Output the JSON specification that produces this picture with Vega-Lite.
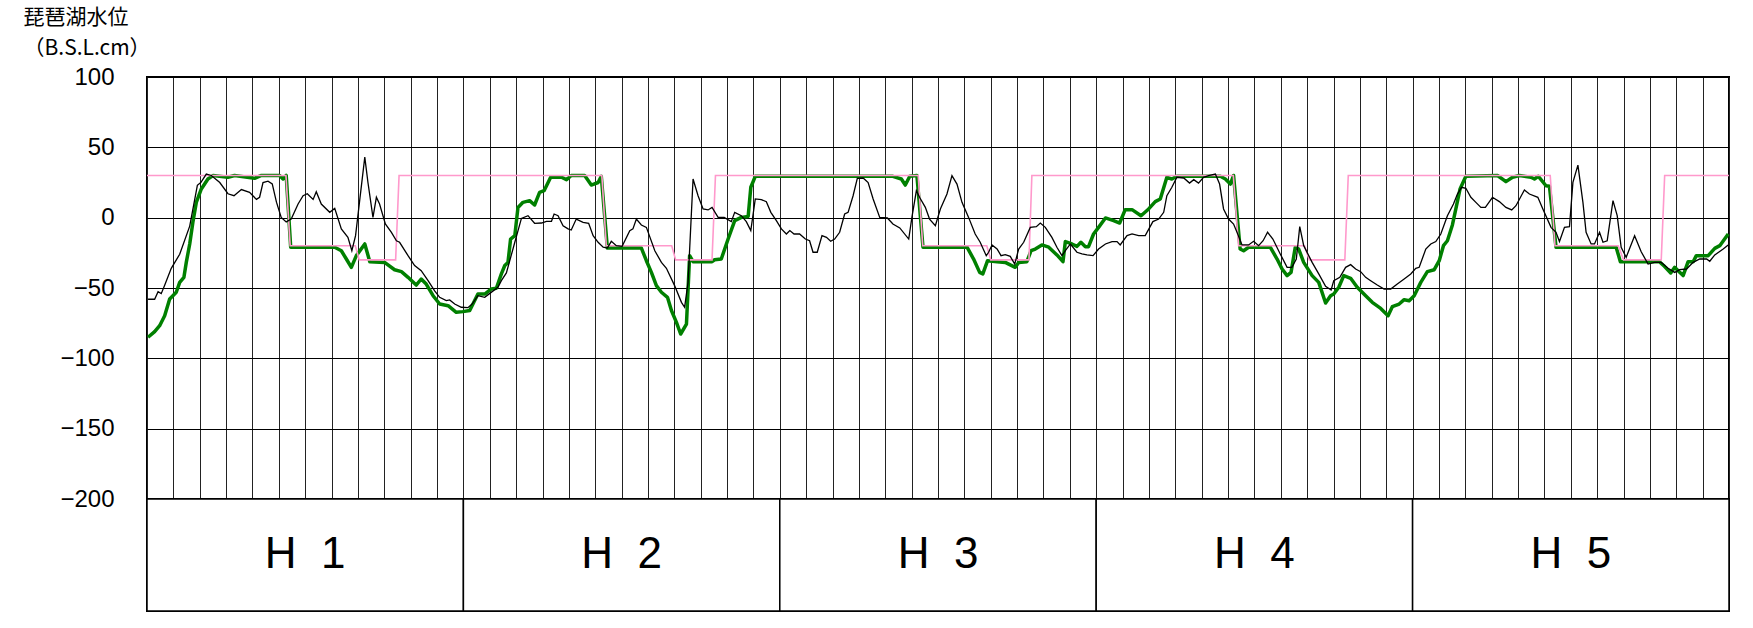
{
  "$schema": "https://vega.github.io/schema/vega-lite/v6.json",
  "background": "white",
  "padding": {"left": 22, "top": 5, "right": 10, "bottom": 5},
  "spacing": 0,
  "bounds": "flush",
  "config": {
    "view": {"stroke": "black", "strokeWidth": 2},
    "axis": {"domain": false, "ticks": false},
    "concat": {"spacing": 0}
  },
  "datasets": {
    "thin": [
      {"month":0.04,"level":-58},{"month":0.29,"level":-58},{"month":0.42,"level":-52.6},{"month":0.54,"level":-54},{"month":0.67,"level":-48},{"month":0.92,"level":-36},{"month":1.24,"level":-26},{"month":1.62,"level":-6},{"month":1.91,"level":23},{"month":2.04,"level":25},{"month":2.25,"level":31},{"month":2.44,"level":30},{"month":2.76,"level":25},{"month":3.07,"level":17},{"month":3.3,"level":15.6},{"month":3.58,"level":20},{"month":3.89,"level":18},{"month":4.15,"level":13},{"month":4.27,"level":14.5},{"month":4.4,"level":25},{"month":4.59,"level":26},{"month":4.75,"level":24},{"month":4.91,"level":11},{"month":5.09,"level":0.2},{"month":5.28,"level":-3},{"month":5.47,"level":-1},{"month":5.73,"level":9.7},{"month":5.92,"level":15.6},{"month":6.08,"level":17},{"month":6.3,"level":13},{"month":6.42,"level":18.5},{"month":6.61,"level":9.7},{"month":6.93,"level":3.8},{"month":7.12,"level":6.6},{"month":7.37,"level":-8},{"month":7.62,"level":-14},{"month":7.77,"level":-23.5},{"month":7.91,"level":-12.8},{"month":8.07,"level":12.8},{"month":8.26,"level":43},{"month":8.38,"level":25},{"month":8.57,"level":0.2},{"month":8.7,"level":14.5},{"month":8.82,"level":9.7},{"month":9.04,"level":-4.5},{"month":9.27,"level":-10.4},{"month":9.46,"level":-16.4},{"month":9.58,"level":-17.5},{"month":9.9,"level":-27},{"month":10.15,"level":-34},{"month":10.4,"level":-37.7},{"month":10.66,"level":-44.8},{"month":10.91,"level":-52},{"month":11.1,"level":-56.6},{"month":11.35,"level":-59},{"month":11.48,"level":-58.5},{"month":11.67,"level":-61.4},{"month":11.92,"level":-63.7},{"month":12.17,"level":-64},{"month":12.33,"level":-61.4},{"month":12.55,"level":-55.5},{"month":12.81,"level":-56.6},{"month":12.99,"level":-54},{"month":13.31,"level":-49.5},
      {"month":13.44,"level":-44.8},{"month":13.63,"level":-39.3},{"month":13.95,"level":-17.5},{"month":14.2,"level":-0.5},{"month":14.45,"level":1.4},{"month":14.7,"level":-4},{"month":14.96,"level":-3.8},{"month":15.15,"level":-2.6},{"month":15.34,"level":-2.6},{"month":15.44,"level":2.6},{"month":15.59,"level":1.4},{"month":15.78,"level":-5.7},{"month":15.97,"level":-8},{"month":16.09,"level":-8.8},{"month":16.28,"level":-1},{"month":16.54,"level":-3.3},{"month":16.75,"level":-4},{"month":16.92,"level":-12.8},{"month":17.11,"level":-17.5},{"month":17.3,"level":-21},{"month":17.46,"level":-21.6},{"month":17.61,"level":-16.8},{"month":17.8,"level":-19.9},{"month":18.02,"level":-20.4},{"month":18.31,"level":-9.2},{"month":18.43,"level":-8},{"month":18.56,"level":-1},{"month":18.75,"level":-5.2},{"month":18.94,"level":-6.9},{"month":19.26,"level":-23.5},{"month":19.51,"level":-31.8},{"month":19.7,"level":-36},{"month":20.01,"level":-48.3},{"month":20.27,"level":-60.2},{"month":20.39,"level":-63.7},{"month":20.52,"level":-46},{"month":20.71,"level":27.5},{"month":20.9,"level":15.6},{"month":21.09,"level":6.2},{"month":21.28,"level":5.5},{"month":21.43,"level":7.3},{"month":21.66,"level":0.2},{"month":21.89,"level":0.2},{"month":22.16,"level":-2.8},{"month":22.29,"level":3.8},{"month":22.54,"level":1.4},{"month":22.73,"level":-2.8},{"month":22.9,"level":-9.2},{"month":23.07,"level":13.3},{"month":23.3,"level":12.8},{"month":23.49,"level":11.4},{"month":23.66,"level":3.8},{"month":23.87,"level":-2.1},{"month":24.06,"level":-8},{"month":24.25,"level":-11.6},{"month":24.38,"level":-9.2},{"month":24.54,"level":-11.6},{"month":24.75,"level":-11.6},{"month":24.97,"level":-15.2},{"month":25.13,"level":-16.4},{"month":25.26,"level":-24.6},{"month":25.42,"level":-24.6},{"month":25.6,"level":-12.8},{"month":25.77,"level":-14},{"month":25.93,"level":-16.8},{"month":26.08,"level":-15.2},{"month":26.27,"level":-10.4},{"month":26.46,"level":2.6},{"month":26.59,"level":3.8},{"month":26.78,"level":15.6},{"month":26.94,"level":28},{"month":27.16,"level":28.2},{"month":27.35,"level":25},{"month":27.54,"level":13.3},{"month":27.79,"level":0.2},{"month":28.08,"level":-0.2},{"month":28.29,"level":-4.5},{"month":28.55,"level":-7.3},{"month":28.89,"level":-15.2},
      {"month":29.01,"level":0.2},{"month":29.18,"level":19.2},{"month":29.3,"level":14.5},{"month":29.52,"level":7.3},{"month":29.68,"level":-1},{"month":29.9,"level":-5.7},{"month":30.09,"level":6.2},{"month":30.34,"level":16.8},{"month":30.53,"level":29.9},{"month":30.72,"level":23.9},{"month":30.91,"level":10.9},{"month":31.16,"level":0.2},{"month":31.41,"level":-11.6},{"month":31.6,"level":-17.5},{"month":31.83,"level":-27},{"month":31.92,"level":-24.6},{"month":32.05,"level":-19.4},{"month":32.24,"level":-22.3},{"month":32.39,"level":-27},{"month":32.55,"level":-26.3},{"month":32.74,"level":-27.5},{"month":32.91,"level":-33},{"month":33.06,"level":-22.3},{"month":33.25,"level":-17.5},{"month":33.5,"level":-6.9},{"month":33.73,"level":-6.4},{"month":33.88,"level":-3.8},{"month":34.07,"level":-6.9},{"month":34.32,"level":-14},{"month":34.51,"level":-21},{"month":34.7,"level":-27},{"month":34.83,"level":-23.5},{"month":35.02,"level":-18.7},{"month":35.27,"level":-24.6},{"month":35.46,"level":-25.8},{"month":35.65,"level":-26.5},{"month":35.88,"level":-27},{"month":36.09,"level":-22.3},{"month":36.35,"level":-18.7},{"month":36.6,"level":-17},{"month":36.79,"level":-17},{"month":36.91,"level":-19.4},{"month":37.17,"level":-12.8},{"month":37.36,"level":-11.6},{"month":37.61,"level":-12.8},{"month":37.86,"level":-12.8},{"month":38.15,"level":-2.8},{"month":38.37,"level":-1},{"month":38.56,"level":3.8},{"month":38.68,"level":15.6},{"month":38.87,"level":21.6},{"month":39.06,"level":28.7},{"month":39.32,"level":28.2},{"month":39.54,"level":24.6},{"month":39.7,"level":27},{"month":39.88,"level":24.6},{"month":40.07,"level":28.7},{"month":40.26,"level":29.9},{"month":40.52,"level":31},{"month":40.68,"level":23.9},{"month":40.83,"level":6.2},{"month":41.02,"level":-1},{"month":41.21,"level":-4.5},{"month":41.34,"level":-10.4},{"month":41.53,"level":-19.4},{"month":41.78,"level":-19.4},{"month":41.97,"level":-16.8},{"month":42.16,"level":-19.9},{"month":42.33,"level":-16.4},{"month":42.5,"level":-10.4},{"month":42.7,"level":-15.2},{"month":42.98,"level":-25.8},{"month":43.24,"level":-35.3},{"month":43.42,"level":-35.3},{"month":43.59,"level":-29.4},{"month":43.72,"level":-6.4},{"month":43.87,"level":-19.9},
      {"month":44.19,"level":-31.8},{"month":44.44,"level":-40},{"month":44.7,"level":-48.8},{"month":44.91,"level":-51.4},{"month":45.01,"level":-44.8},{"month":45.24,"level":-42.4},{"month":45.46,"level":-35.3},{"month":45.65,"level":-33.4},{"month":45.84,"level":-36.5},{"month":46.03,"level":-38.4},{"month":46.22,"level":-42.4},{"month":46.41,"level":-44.8},{"month":46.66,"level":-47.9},{"month":46.92,"level":-50.7},{"month":47.17,"level":-50.7},{"month":47.42,"level":-47.2},{"month":47.68,"level":-43.6},{"month":47.93,"level":-40},{"month":48.12,"level":-36},{"month":48.25,"level":-35.3},{"month":48.5,"level":-22.3},{"month":48.69,"level":-18.7},{"month":48.88,"level":-17},{"month":49.07,"level":-11.6},{"month":49.32,"level":1.4},{"month":49.55,"level":9.7},{"month":49.7,"level":16.8},{"month":49.86,"level":21.6},{"month":50.02,"level":20.9},{"month":50.21,"level":14.5},{"month":50.4,"level":10.9},{"month":50.59,"level":7.3},{"month":50.76,"level":7.3},{"month":51.03,"level":14.5},{"month":51.29,"level":11.4},{"month":51.54,"level":7.3},{"month":51.76,"level":5.5},{"month":51.92,"level":8.5},{"month":52.24,"level":19.7},{"month":52.43,"level":16.8},{"month":52.75,"level":14.5},{"month":52.94,"level":6.2},{"month":53.25,"level":-6.9},{"month":53.44,"level":-10.4},{"month":53.57,"level":-17},{"month":53.76,"level":-6.9},{"month":53.95,"level":-6.4},{"month":54.08,"level":25.1},{"month":54.27,"level":37.4},{"month":54.46,"level":10.9},{"month":54.58,"level":-10.4},{"month":54.77,"level":-18.7},{"month":54.9,"level":-18.7},{"month":55.09,"level":-10.4},{"month":55.22,"level":-17.5},{"month":55.38,"level":-16.4},{"month":55.6,"level":12.1},{"month":55.76,"level":1.4},{"month":55.91,"level":-21},{"month":56.1,"level":-28.2},{"month":56.42,"level":-12.8},{"month":56.67,"level":-24.2},{"month":56.93,"level":-33},{"month":57.18,"level":-31.8},{"month":57.43,"level":-31.8},{"month":57.69,"level":-36},{"month":57.94,"level":-38.9},{"month":58.13,"level":-37},{"month":58.39,"level":-36.5},{"month":58.64,"level":-31.8},{"month":58.89,"level":-29.4},{"month":59.15,"level":-29.4},{"month":59.27,"level":-31},{"month":59.46,"level":-26.5},{"month":59.78,"level":-22.3},{"month":59.97,"level":-19.4}
    ],
    "thick": [
      {"month":0.04,"level":-85},{"month":0.29,"level":-81},{"month":0.48,"level":-76.8},{"month":0.67,"level":-69.7},{"month":0.86,"level":-57.8},{"month":1.11,"level":-53},{"month":1.24,"level":-46},{"month":1.4,"level":-42.4},{"month":1.49,"level":-31.8},{"month":1.62,"level":-18.7},{"month":1.74,"level":-3.3},{"month":1.87,"level":10.9},{"month":2.06,"level":20.4},{"month":2.31,"level":27.5},{"month":2.5,"level":29.9},{"month":3.07,"level":28.7},{"month":3.32,"level":30},{"month":4.08,"level":28},{"month":4.34,"level":30},{"month":5.03,"level":30},{"month":5.16,"level":27.5},{"month":5.28,"level":30},{"month":5.45,"level":-21},{"month":7.12,"level":-21},{"month":7.37,"level":-23.5},{"month":7.56,"level":-29.4},{"month":7.75,"level":-35.3},{"month":7.94,"level":-27},{"month":8.26,"level":-18.7},{"month":8.45,"level":-31.3},{"month":9.01,"level":-31.8},{"month":9.39,"level":-37},{"month":9.65,"level":-38.4},{"month":9.9,"level":-42.4},{"month":10.21,"level":-47.9},{"month":10.4,"level":-43.6},{"month":10.59,"level":-47.2},{"month":10.85,"level":-55.5},{"month":11.1,"level":-61.4},{"month":11.42,"level":-62.6},{"month":11.73,"level":-67.3},{"month":11.98,"level":-66.8},{"month":12.24,"level":-66},{"month":12.55,"level":-54.3},{"month":12.81,"level":-54.3},{"month":13.06,"level":-50.7},{"month":13.25,"level":-50.2},
      {"month":13.44,"level":-40},{"month":13.57,"level":-34},{"month":13.69,"level":-31.8},{"month":13.79,"level":-15.2},{"month":13.95,"level":-12.8},{"month":14.07,"level":7.3},{"month":14.26,"level":10.9},{"month":14.51,"level":12.1},{"month":14.7,"level":9},{"month":14.89,"level":18},{"month":15.06,"level":19.2},{"month":15.31,"level":28.7},{"month":15.53,"level":28.7},{"month":15.72,"level":28.7},{"month":15.91,"level":27},{"month":16.09,"level":30},{"month":16.6,"level":30},{"month":16.85,"level":23.2},{"month":17.11,"level":25},{"month":17.23,"level":29.4},{"month":17.46,"level":-21.6},{"month":18.75,"level":-21.6},{"month":18.94,"level":-30.6},{"month":19.13,"level":-38.9},{"month":19.32,"level":-48.3},{"month":19.51,"level":-53},{"month":19.74,"level":-56.6},{"month":19.89,"level":-66},{"month":20.08,"level":-74.4},{"month":20.24,"level":-82.7},{"month":20.46,"level":-75.6},{"month":20.58,"level":-27},{"month":20.71,"level":-31.3},{"month":21.43,"level":-31.3},{"month":21.53,"level":-29.9},{"month":21.78,"level":-29.4},{"month":22.04,"level":-15.2},{"month":22.29,"level":-2.1},{"month":22.54,"level":0.2},{"month":22.8,"level":0.9},{"month":22.9,"level":21.6},{"month":23.07,"level":29.4},{"month":28.29,"level":29.4},{"month":28.61,"level":27.5},{"month":28.76,"level":23.2},{"month":28.93,"level":29.4},{"month":29.2,"level":30},{"month":29.43,"level":-21},
      {"month":31.1,"level":-21},{"month":31.35,"level":-29.4},{"month":31.58,"level":-38.9},{"month":31.7,"level":-40},{"month":31.88,"level":-30.6},{"month":32.24,"level":-31.3},{"month":32.55,"level":-31.8},{"month":32.74,"level":-33.6},{"month":32.93,"level":-35.3},{"month":33.06,"level":-31.8},{"month":33.37,"level":-31.3},{"month":33.53,"level":-23.5},{"month":33.69,"level":-22.3},{"month":33.94,"level":-19.4},{"month":34.2,"level":-21},{"month":34.51,"level":-26.5},{"month":34.74,"level":-31.3},{"month":34.83,"level":-17},{"month":35.08,"level":-18.7},{"month":35.27,"level":-20.4},{"month":35.42,"level":-17.5},{"month":35.59,"level":-20.6},{"month":35.71,"level":-20.6},{"month":35.9,"level":-11.6},{"month":36.09,"level":-6.9},{"month":36.35,"level":-0.2},{"month":36.66,"level":-2.1},{"month":36.89,"level":-3.8},{"month":37.1,"level":5.7},{"month":37.36,"level":5.7},{"month":37.7,"level":1.4},{"month":37.99,"level":6.2},{"month":38.24,"level":11.4},{"month":38.43,"level":13.3},{"month":38.68,"level":28.7},{"month":38.87,"level":27.5},{"month":39.06,"level":29.4},{"month":40.71,"level":29.4},{"month":40.9,"level":27.5},{"month":41.09,"level":23.9},{"month":41.21,"level":30},{"month":41.46,"level":-22.3},{"month":41.59,"level":-23.5},{"month":41.78,"level":-21},{"month":42.6,"level":-21},{"month":42.86,"level":-29.4},{"month":43.05,"level":-36.5},{"month":43.24,"level":-41.2},{"month":43.39,"level":-38.9},{"month":43.55,"level":-21},{"month":43.68,"level":-22.3},{"month":43.87,"level":-31.8},
      {"month":44.19,"level":-41.2},{"month":44.44,"level":-46},{"month":44.7,"level":-60.7},{"month":44.89,"level":-55.5},{"month":45.01,"level":-54.3},{"month":45.2,"level":-49.5},{"month":45.39,"level":-41.2},{"month":45.65,"level":-43.1},{"month":45.9,"level":-49.5},{"month":46.22,"level":-55.5},{"month":46.47,"level":-60.2},{"month":46.79,"level":-64.5},{"month":47.07,"level":-69.7},{"month":47.23,"level":-63.3},{"month":47.49,"level":-61.4},{"month":47.68,"level":-58.3},{"month":47.87,"level":-59},{"month":48.06,"level":-55.5},{"month":48.31,"level":-46},{"month":48.56,"level":-38.4},{"month":48.82,"level":-37},{"month":49.01,"level":-30.6},{"month":49.17,"level":-19.9},{"month":49.32,"level":-16.4},{"month":49.51,"level":-5.2},{"month":49.64,"level":6.2},{"month":49.8,"level":20.4},{"month":50.02,"level":29.4},{"month":51.22,"level":30},{"month":51.54,"level":25.6},{"month":51.79,"level":28.7},{"month":52.05,"level":30},{"month":52.49,"level":28.7},{"month":52.62,"level":27.5},{"month":52.77,"level":29.4},{"month":53.06,"level":22.7},{"month":53.19,"level":22.3},{"month":53.44,"level":-21},{"month":55.72,"level":-21},{"month":55.88,"level":-31.3},{"month":57.36,"level":-31.3},{"month":57.55,"level":-34.6},{"month":57.79,"level":-39.3},{"month":57.94,"level":-35.3},{"month":58.07,"level":-37.7},{"month":58.26,"level":-41.2},{"month":58.45,"level":-31.3},{"month":58.64,"level":-31.3},{"month":58.76,"level":-27},{"month":59.21,"level":-27},{"month":59.46,"level":-21.8},{"month":59.65,"level":-19.9},{"month":59.97,"level":-11.6}
    ],
    "rule": [
      {"month":0,"level":30},{"month":5.27,"level":30},{"month":5.43,"level":-20},{"month":7.9,"level":-20},{"month":8.05,"level":-30},{"month":9.43,"level":-30},{"month":9.56,"level":30},
      {"month":17.25,"level":30},{"month":17.42,"level":-20},{"month":19.9,"level":-20},{"month":20.05,"level":-30},{"month":21.43,"level":-30},{"month":21.56,"level":30},
      {"month":29.25,"level":30},{"month":29.42,"level":-20},{"month":31.85,"level":-20},{"month":32.0,"level":-30},{"month":33.45,"level":-30},{"month":33.56,"level":30},
      {"month":41.2,"level":30},{"month":41.4,"level":-20},{"month":43.9,"level":-20},{"month":44.08,"level":-30},{"month":45.43,"level":-30},{"month":45.56,"level":30},
      {"month":53.22,"level":30},{"month":53.4,"level":-20},{"month":55.8,"level":-20},{"month":56.0,"level":-30},{"month":57.43,"level":-30},{"month":57.56,"level":30},{"month":60,"level":30}
    ],
    "years": [
      {"year":"H\u00a0\u00a01"},{"year":"H\u00a0\u00a02"},{"year":"H\u00a0\u00a03"},{"year":"H\u00a0\u00a04"},{"year":"H\u00a0\u00a05"}
    ]
  },
  "vconcat": [
    {
      "width": 1582,
      "height": 422,
      "encoding": {
        "x": {
          "field": "month", "type": "quantitative",
          "scale": {"domain": [0, 60], "nice": false, "zero": false},
          "axis": {
            "values": [0,1,2,3,4,5,6,7,8,9,10,11,12,13,14,15,16,17,18,19,20,21,22,23,24,25,26,27,28,29,30,31,32,33,34,35,36,37,38,39,40,41,42,43,44,45,46,47,48,49,50,51,52,53,54,55,56,57,58,59,60],
            "labels": false, "title": null, "grid": true, "minExtent": 0, "maxExtent": 0, "labelPadding": 0,
            "gridColor": "#222222", "gridWidth": 1, "gridOpacity": 1
          }
        },
        "y": {
          "field": "level", "type": "quantitative",
          "scale": {"domain": [-200, 100], "nice": false, "zero": false},
          "axis": {
            "values": [-200,-150,-100,-50,0,50,100],
            "grid": true, "gridColor": "black", "gridWidth": 1.2, "gridOpacity": 1,
            "labelFont": "Liberation Sans", "labelFontSize": 24, "labelColor": "black", "labelPadding": 33,
            "title": ["琵琶湖水位", "（B.S.L.cm）"],
            "titleAngle": 0, "titleAlign": "left", "titleBaseline": "top",
            "titleX": -124, "titleY": -71,
            "titleFont": "Noto Sans CJK JP", "titleFontSize": 21, "titleFontWeight": "normal",
            "titleLineHeight": 31, "titleColor": "black"
          }
        }
      },
      "layer": [
        {"data": {"name": "thick"}, "mark": {"type": "line", "color": "#008000", "strokeWidth": 3.5, "strokeJoin": "round"}},
        {"data": {"name": "rule"}, "mark": {"type": "line", "color": "#FF99CC", "strokeWidth": 1.6}},
        {"data": {"name": "thin"}, "mark": {"type": "line", "color": "black", "strokeWidth": 1.3}}
      ]
    },
    {
      "width": 1582,
      "height": 112,
      "data": {"name": "years"},
      "layer": [
        {
          "mark": {"type": "bar", "fill": "white", "stroke": "black", "strokeWidth": 1.5},
          "encoding": {
            "x": {"field": "year", "type": "nominal", "sort": null, "axis": null, "scale": {"paddingInner": 0, "paddingOuter": 0}}
          }
        },
        {
          "mark": {"type": "text", "font": "Liberation Sans", "fontSize": 44, "color": "black"},
          "encoding": {
            "x": {"field": "year", "type": "nominal", "sort": null, "axis": null},
            "text": {"field": "year"}
          }
        }
      ]
    }
  ]
}
